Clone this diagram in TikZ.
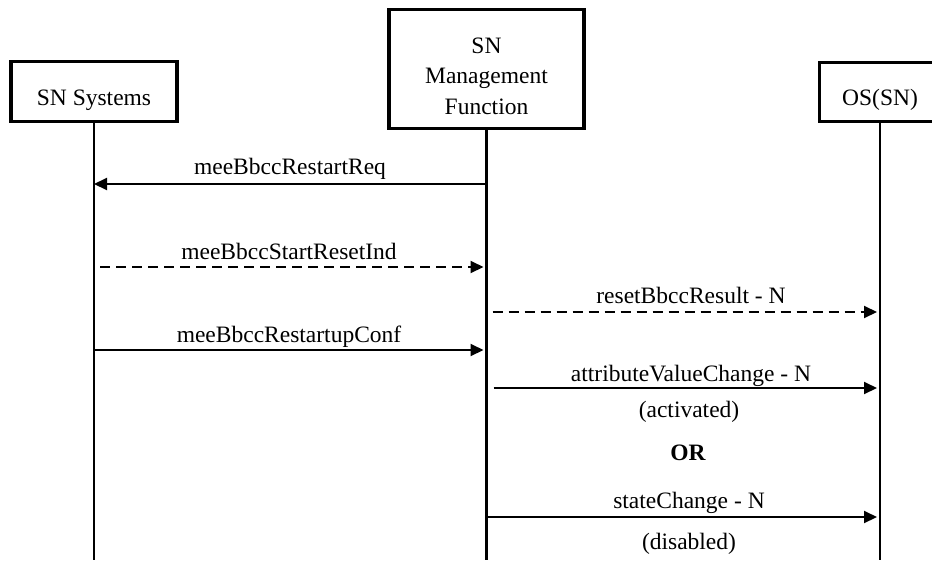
\documentclass[tikz,border=0pt]{standalone}
\usepackage{fontspec}
\setmainfont{Liberation Serif}
\usetikzlibrary{arrows.meta}
\tikzset{
  txt/.style={font=\fontsize{23.5}{29}\selectfont, inner sep=0pt},
  lbl/.style={txt, anchor=base},
  entity/.style={draw, line width=3.2pt, rectangle, inner sep=0pt},
  life/.style={line width=2.2pt},
  msg/.style={line width=2pt, -{Triangle[length=13pt,width=12pt]}},
  async/.style={msg, dash pattern=on 10pt off 6pt},
}
\begin{document}
\begin{tikzpicture}[x=1pt,y=-1pt]
\useasboundingbox (0,0) rectangle (932,560);

% participants
\node[entity, minimum width=166pt, minimum height=60pt] (sys) at (94,91.5) {};
\node[lbl] (systxt) at (94,105) {SN Systems};
\node[entity, minimum width=195pt, minimum height=119pt] (mgmt) at (486.5,69) {};
\node[txt, align=center, font=\fontsize{23.5}{30.5}\selectfont] (mgmttxt) at (486.5,76) {SN\\Management\\Function};
\node[entity, minimum width=121pt, minimum height=59pt] (os) at (880,92) {};
\node[lbl] (ostxt) at (880,105) {OS(SN)};

% lifelines
\coordinate (sysend) at (sys.south |- 0,560);
\coordinate (mgmtend) at (mgmt.south |- 0,560);
\coordinate (osend) at (os.south |- 0,560);
\draw[life] (sys.south) -- (sysend);
\draw[life] (mgmt.south) -- (mgmtend);
\draw[life] (os.south) -- (osend);

% messages
\draw[msg] (mgmt.south |- 0,184) -- (sys.south |- 0,184);
\node[lbl] (m1) at (290,174) {meeBbccRestartReq};

\draw[async, shorten >=3pt, shorten <=6pt] (sys.south |- 0,267) -- (mgmt.south |- 0,267);
\node[lbl] (m2) at (289,259) {meeBbccStartResetInd};

\draw[async, shorten >=3pt, shorten <=6pt] (mgmt.south |- 0,312) -- (os.south |- 0,312);
\node[lbl] (m3) at (691,303) {resetBbccResult - N};

\draw[msg, shorten >=3pt] (sys.south |- 0,350) -- (mgmt.south |- 0,350);
\node[lbl] (m4) at (289,342) {meeBbccRestartupConf};

\draw[msg, shorten >=3pt, shorten <=7pt] (mgmt.south |- 0,388) -- (os.south |- 0,388);
\node[lbl] (m5) at (691,381) {attributeValueChange - N};
\node[lbl] (m5note) at (689,417) {(activated)};

\node[lbl, font=\fontsize{23.5}{29}\selectfont\bfseries] (alt) at (688,460) {OR};

\draw[msg, shorten >=3pt] (mgmt.south |- 0,517) -- (os.south |- 0,517);
\node[lbl] (m6) at (689,508) {stateChange - N};
\node[lbl] (m6note) at (689,549) {(disabled)};
\end{tikzpicture}
\end{document}
